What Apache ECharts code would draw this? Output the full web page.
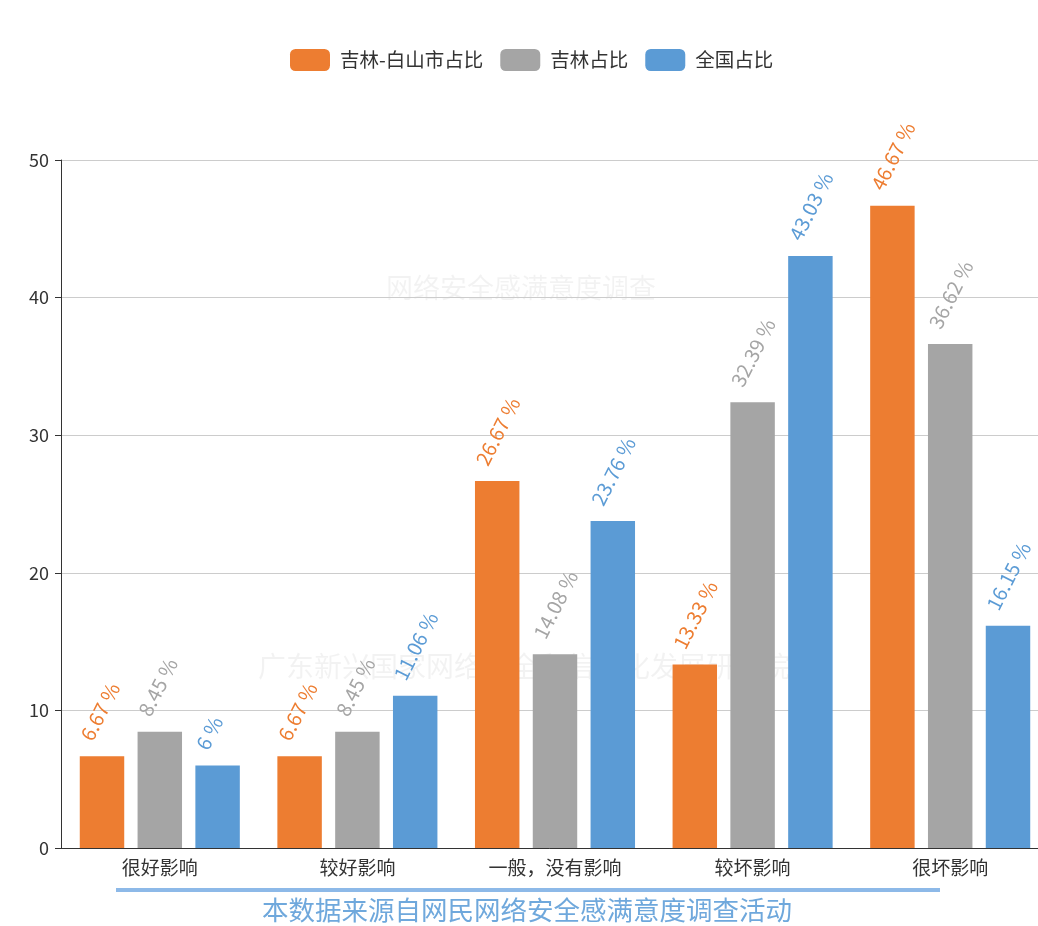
<!DOCTYPE html>
<html><head><meta charset="utf-8">
<script src="https://cdn.jsdelivr.net/npm/echarts@6/dist/echarts.min.js"></script>
<style>html,body{margin:0;padding:0;background:#fff}#c{width:1038px;height:926px}</style>
</head><body><div id="c"></div>
<script>
var categories = ['很好影响', '较好影响', '一般，没有影响', '较坏影响', '很坏影响'];
var seriesNames = ['吉林-白山市占比', '吉林占比', '全国占比'];
var baishan = [6.67, 6.67, 26.67, 13.33, 46.67];
var jilin = [8.45, 8.45, 14.08, 32.39, 36.62];
var national = [6, 11.06, 23.76, 43.03, 16.15];
var colors = ['#ED7D31', '#A5A5A5', '#5B9BD5'];
var caption = '本数据来源自网民网络安全感满意度调查活动';

var font = '"Noto Sans CJK SC", "Noto Sans", sans-serif';
function mk(name, data, color) {
  return {
    name: name, type: 'bar', data: data, barGap: '30%', barCategoryGap: '19%',
    itemStyle: { color: color },
    label: {
      show: true, position: 'top', distance: 9, rotate: 63, offset: [0, -18],
      align: 'left', verticalAlign: 'middle',
      formatter: '{c} %', color: color, fontSize: 20, fontFamily: font
    }
  };
}
var chart = echarts.init(document.getElementById('c'));
chart.setOption({
  animation: false,
  textStyle: { fontFamily: font },
  legend: {
    top: 44, left: 285, itemWidth: 40, itemHeight: 22, itemGap: 17,
    textStyle: { fontSize: 19.5, color: '#333', padding: [0, 0, 0, 5] },
    data: seriesNames
  },
  grid: { left: 61, width: 988, top: 160, bottom: 78, containLabel: false, outerBoundsMode: 'none' },
  xAxis: {
    type: 'category', data: categories,
    axisLine: { lineStyle: { color: '#333' } },
    axisTick: { lineStyle: { color: '#333' } },
    axisLabel: { fontSize: 19, color: '#333', margin: 10 }
  },
  yAxis: {
    type: 'value', min: 0, max: 50, interval: 10,
    axisLine: { show: true, lineStyle: { color: '#333' } },
    axisTick: { show: true, length: 6, lineStyle: { color: '#333' } },
    axisLabel: { fontSize: 18, color: '#333', margin: 12 },
    splitLine: { lineStyle: { color: '#ccc' } }
  },
  graphic: [
    { type: 'text', x: 521, y: 274, z: 0, silent: true,
      style: { text: '网络安全感满意度调查', align: 'center', fontSize: 27, fill: 'rgba(0,0,0,0.05)', fontFamily: font } },
    { type: 'text', x: 524, y: 652, z: 0, silent: true,
      style: { text: '广东新兴国家网络安全和信息化发展研究院', align: 'center', fontSize: 28, fill: 'rgba(0,0,0,0.05)', fontFamily: font } },
    { type: 'rect', shape: { x: 116, y: 888, width: 824, height: 4 },
      style: { fill: '#8DB9E8' } },
    { type: 'text', x: 527, y: 897,
      style: { text: caption, align: 'center', fontSize: 26.5, fill: '#6FA8DC', fontFamily: font } }
  ],
  series: [mk(seriesNames[0], baishan, colors[0]), mk(seriesNames[1], jilin, colors[1]), mk(seriesNames[2], national, colors[2])]
});
</script></body></html>
